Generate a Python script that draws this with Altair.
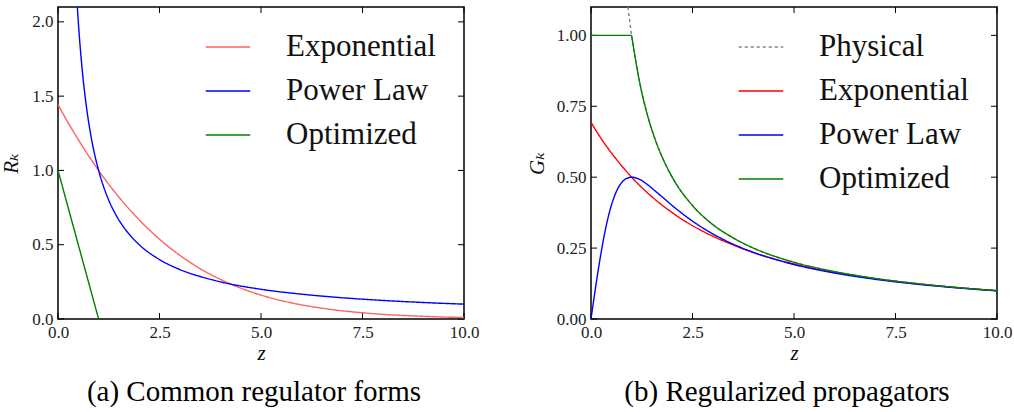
import altair as alt
import pandas as pd

# ---------------- data ----------------
# (a) regulators R_k(z)
zA_exp = [0, 0.25, 0.5, 0.75, 1, 1.5, 2, 2.5, 3, 3.5, 4, 4.5, 5, 5.5, 6, 6.5, 7, 7.5, 8, 8.5, 9, 9.5, 10]
rA_exp = [1.443, 1.321, 1.207, 1.100, 1.000, 0.820, 0.667, 0.537, 0.429, 0.339, 0.267, 0.208, 0.161,
          0.124, 0.095, 0.073, 0.055, 0.042, 0.031, 0.024, 0.018, 0.013, 0.010]
zA_pow = [0.476, 0.5, 0.6, 0.7, 0.8, 0.9, 1.0, 1.2, 1.4, 1.6, 1.8, 2.0, 2.5, 3, 3.5, 4, 5, 6, 7, 8, 9, 10]
rA_pow = [2.1, 2.0, 1.667, 1.429, 1.25, 1.111, 1.0, 0.833, 0.714, 0.625, 0.556, 0.5, 0.4, 0.333, 0.286,
          0.25, 0.2, 0.167, 0.143, 0.125, 0.111, 0.1]
zA_opt = [0, 1]
rA_opt = [1, 0]

# (b) propagators G_k(z)
zB_phys = [0.909, 1.0, 1.2, 1.4, 1.6, 1.8, 2, 2.5, 3, 3.5, 4, 5, 6, 7, 8, 9, 10]
gB_phys = [1.1, 1.0, 0.833, 0.714, 0.625, 0.556, 0.5, 0.4, 0.333, 0.286, 0.25, 0.2, 0.167, 0.143, 0.125, 0.111, 0.1]
zB_exp = [0, 0.25, 0.5, 0.75, 1, 1.5, 2, 2.5, 3, 3.5, 4, 4.5, 5, 6, 7, 8, 9, 10]
gB_exp = [0.693, 0.636, 0.586, 0.541, 0.5, 0.431, 0.375, 0.329, 0.292, 0.261, 0.234, 0.212, 0.194,
          0.164, 0.142, 0.125, 0.111, 0.100]
zB_pow = [0, 0.1, 0.2, 0.3, 0.4, 0.5, 0.6, 0.7, 0.8, 0.9, 1, 1.2, 1.4, 1.6, 1.8, 2, 2.5, 3, 3.5, 4, 4.5,
          5, 6, 7, 8, 9, 10]
gB_pow = [0, 0.099, 0.192, 0.275, 0.345, 0.4, 0.441, 0.470, 0.488, 0.497, 0.5, 0.492, 0.473, 0.449,
          0.425, 0.4, 0.345, 0.3, 0.264, 0.235, 0.212, 0.192, 0.162, 0.14, 0.123, 0.110, 0.099]
zB_opt_flat = [0, 1]
gB_opt_flat = [1, 1]
zB_opt_tail = [1, 1.2, 1.4, 1.6, 1.8, 2, 2.5, 3, 3.5, 4, 5, 6, 7, 8, 9, 10]
gB_opt_tail = [1, 0.833, 0.714, 0.625, 0.556, 0.5, 0.4, 0.333, 0.286, 0.25, 0.2, 0.167, 0.143, 0.125, 0.111, 0.1]

x_ticks = [0, 2.5, 5, 7.5, 10]
yA_ticks = [0, 0.5, 1.0, 1.5, 2.0]
yB_ticks = [0, 0.25, 0.5, 0.75, 1.0]

seriesA = ["Exponential", "Power Law", "Optimized"]
seriesB = ["Physical", "Exponential", "Power Law", "Optimized"]


def rows(name, seg, zs, vs):
    return [{"z": z, "v": v, "series": name, "seg": seg} for z, v in zip(zs, vs)]


dfA = pd.DataFrame(rows("Exponential", 0, zA_exp, rA_exp)
                   + rows("Power Law", 0, zA_pow, rA_pow)
                   + rows("Optimized", 0, zA_opt, rA_opt))
dfB = pd.DataFrame(rows("Physical", 0, zB_phys, gB_phys)
                   + rows("Exponential", 0, zB_exp, gB_exp)
                   + rows("Power Law", 0, zB_pow, gB_pow)
                   + rows("Optimized", 0, zB_opt_flat, gB_opt_flat)
                   + rows("Optimized", 1, zB_opt_tail, gB_opt_tail))

W, H = 406, 312
SERIF = "'Liberation Serif', 'DejaVu Serif', Times, serif"
TICK = 6


def panel(df, ydom, yticks, yfmt, ytitle, ytitlepad, caption, order, colors, dashes, legx):
    xs = alt.Scale(domain=[0, 10], nice=False, zero=False)
    ys = alt.Scale(domain=ydom, nice=False, zero=False)
    xax = alt.Axis(values=x_ticks, format=".1f", title="z")
    yax = alt.Axis(values=yticks, format=yfmt, title=ytitle, titlePadding=ytitlepad)
    leg = alt.Legend(title=None, orient="none", legendX=legx, legendY=17, padding=0,
                     symbolType="stroke", symbolSize=1980, symbolStrokeWidth=1.5,
                     labelFont=SERIF, labelFontSize=31, labelOffset=35, labelColor="#111",
                     rowPadding=6, labelLimit=400)
    lines = alt.Chart(df).mark_line(clip=True, strokeWidth=1.4, interpolate="monotone").encode(
        x=alt.X("z:Q", scale=xs, axis=xax),
        y=alt.Y("v:Q", scale=ys, axis=yax),
        color=alt.Color("series:N", scale=alt.Scale(domain=order, range=colors), legend=leg),
        strokeDash=alt.StrokeDash("series:N", scale=alt.Scale(domain=order, range=dashes), legend=leg),
        detail="seg:N",
    )
    xt = pd.DataFrame({"z": x_ticks})
    yt = pd.DataFrame({"v": yticks})
    xb = alt.Chart(xt).mark_rule(color="black", strokeWidth=1).encode(
        x=alt.X("z:Q", scale=xs, axis=xax), y=alt.value(H), y2=alt.value(H - TICK))
    xtp = alt.Chart(xt).mark_rule(color="black", strokeWidth=1).encode(
        x=alt.X("z:Q", scale=xs, axis=xax), y=alt.value(0), y2=alt.value(TICK))
    yl = alt.Chart(yt).mark_rule(color="black", strokeWidth=1).encode(
        y=alt.Y("v:Q", scale=ys, axis=yax), x=alt.value(0), x2=alt.value(TICK))
    yr = alt.Chart(yt).mark_rule(color="black", strokeWidth=1).encode(
        y=alt.Y("v:Q", scale=ys, axis=yax), x=alt.value(W - TICK), x2=alt.value(W))
    return alt.layer(xb, xtp, yl, yr, lines).properties(
        width=W, height=H,
        title=alt.TitleParams(caption, orient="bottom", anchor="middle", font=SERIF, fontSize=29,
                              fontWeight="normal", color="black", offset=15, dx=-7),
    )


pA = panel(dfA, [0, 2.1], yA_ticks, ".1f", "Rₖ", 10, "(a) Common regulator forms",
           seriesA, ["#ff6060", "#0000ff", "#008000"], [[1, 0], [1, 0], [1, 0]], 147)
pB = panel(dfB, [0, 1.1], yB_ticks, ".2f", "Gₖ", 9, "(b) Regularized propagators",
           seriesB, ["#808080", "#ff0000", "#0000ff", "#008000"], [[3, 3], [1, 0], [1, 0], [1, 0]], 147)

chart = alt.hconcat(pA, pB, spacing=45).resolve_scale(
    color="independent", strokeDash="independent", x="independent", y="independent"
).resolve_legend(color="independent", strokeDash="independent").properties(
    padding={"left": 0, "top": 5, "right": 0, "bottom": 0}
).configure_view(stroke="black", strokeWidth=1.5).configure_axis(
    ticks=False, domain=False, grid=False, labelFont=SERIF, labelFontSize=17, labelColor="#222",
    labelPadding=5, labelFlush=False, labelOverlap=False, titleFont=SERIF, titleFontSize=21,
    titleFontStyle="italic", titleFontWeight="normal", titleColor="#111"
).configure_axisX(titlePadding=2)

chart.save("out.html", embed_options={"renderer": "svg", "actions": False})
